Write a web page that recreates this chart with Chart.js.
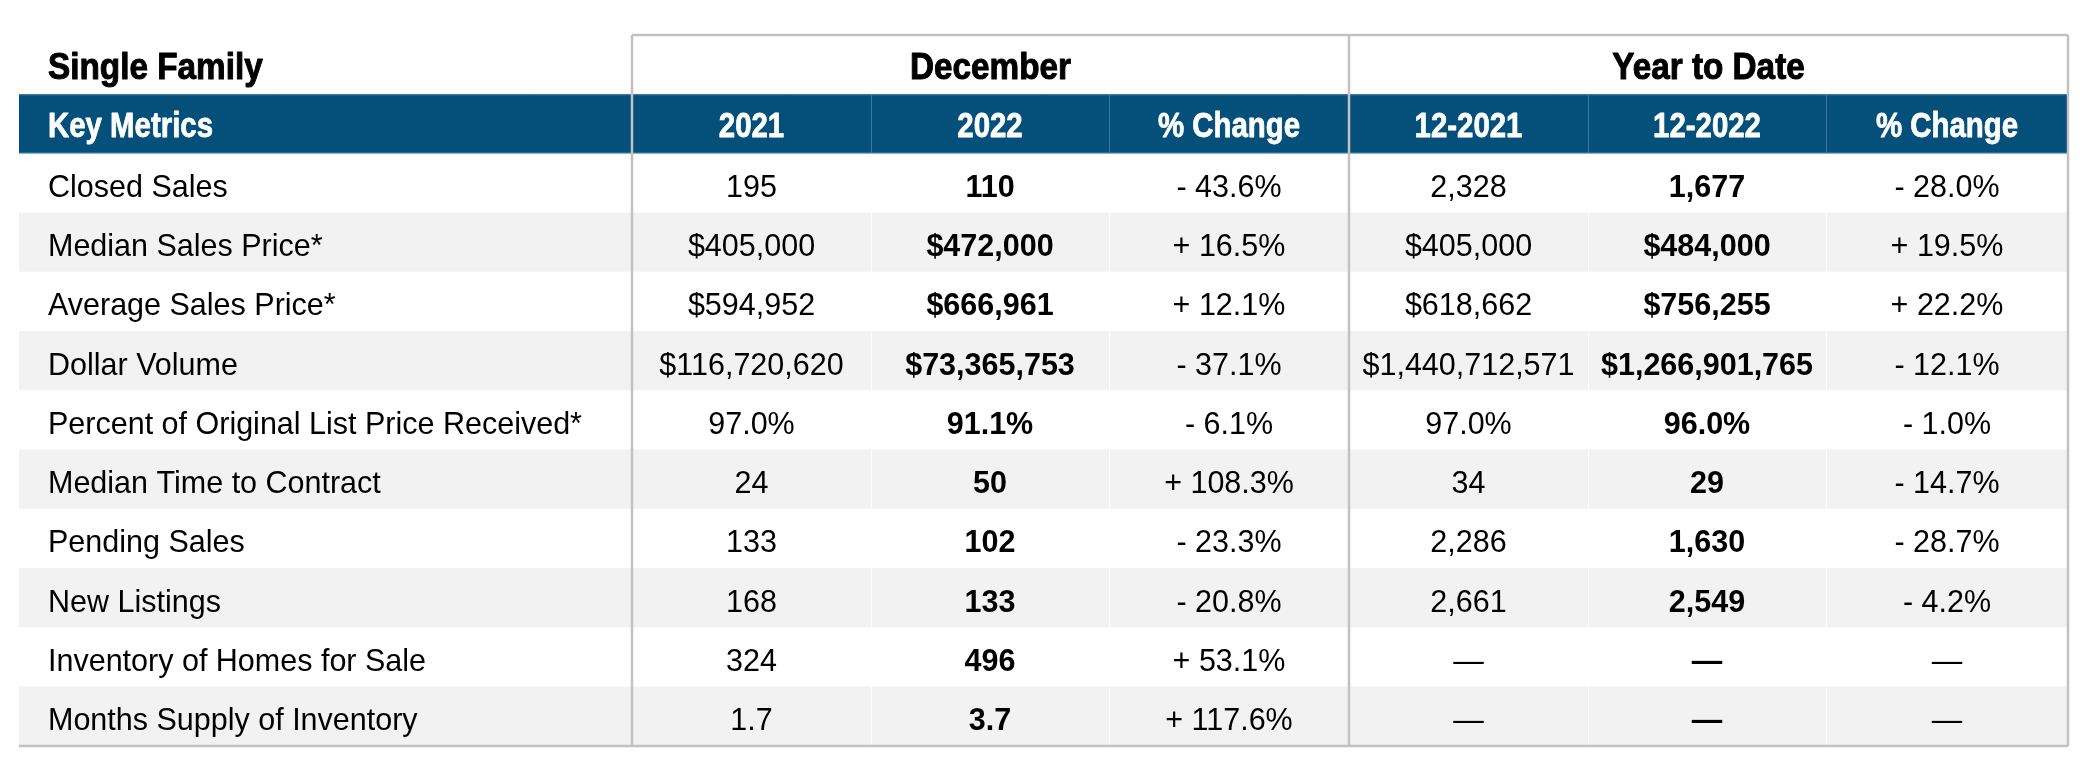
<!DOCTYPE html>
<html lang="en">
<head>
    <title>Single Family Key Metrics</title>
    <meta charset="UTF-8">

    <!-- Include Chart.js library -->
    <script src="https://cdn.jsdelivr.net/npm/chart.js"></script>
    <style>
        body { margin: 0; background: #fff; }
        #wrap { width: 2092px; height: 772px; position: relative; }
    </style>
</head>
<body>
    <div id="wrap">
        <canvas id="metricsTable"></canvas>
    </div>

    <script>
        // Table data
        const sectionTitle = 'Single Family';
        const groupTitles = ['December', 'Year to Date'];
        const columnHeaders = ['Key Metrics', '2021', '2022', '% Change', '12-2021', '12-2022', '% Change'];

        const metrics = [
            'Closed Sales',
            'Median Sales Price*',
            'Average Sales Price*',
            'Dollar Volume',
            'Percent of Original List Price Received*',
            'Median Time to Contract',
            'Pending Sales',
            'New Listings',
            'Inventory of Homes for Sale',
            'Months Supply of Inventory'
        ];
        const dec2021 = ['195', '$405,000', '$594,952', '$116,720,620', '97.0%', '24', '133', '168', '324', '1.7'];
        const dec2022 = ['110', '$472,000', '$666,961', '$73,365,753', '91.1%', '50', '102', '133', '496', '3.7'];
        const decChange = ['- 43.6%', '+ 16.5%', '+ 12.1%', '- 37.1%', '- 6.1%', '+ 108.3%', '- 23.3%', '- 20.8%', '+ 53.1%', '+ 117.6%'];
        const ytd2021 = ['2,328', '$405,000', '$618,662', '$1,440,712,571', '97.0%', '34', '2,286', '2,661', '—', '—'];
        const ytd2022 = ['1,677', '$484,000', '$756,255', '$1,266,901,765', '96.0%', '29', '1,630', '2,549', '—', '—'];
        const ytdChange = ['- 28.0%', '+ 19.5%', '+ 22.2%', '- 12.1%', '- 1.0%', '- 14.7%', '- 28.7%', '- 4.2%', '—', '—'];

        // Layout: column edges in x-scale units
        const colEdges = [0, 613, 852, 1090, 1330, 1569, 1807, 2049];
        const boldColumns = [2, 5];

        const BLUE = '#04507a';
        const STRIPE = '#f2f2f2';
        const BORDER = '#c2c2c2';
        const FONT = "'Liberation Sans', Arial, Helvetica, sans-serif";

        const rowLabels = [sectionTitle, columnHeaders[0], ...metrics];
        const valueColumns = [dec2021, dec2022, decChange, ytd2021, ytd2022, ytdChange];

        const rowColors = rowLabels.map((label, i) => {
            if (i === 0) return 'rgba(0,0,0,0)';
            if (i === 1) return BLUE;
            return (i % 2 === 0) ? '#ffffff' : STRIPE;
        });

        // Helper to draw (optionally condensed / heavier) text
        function drawText(ctx, text, px, py, font, color, align, sx, heavy) {
            ctx.save();
            ctx.font = font;
            ctx.fillStyle = color;
            ctx.strokeStyle = color;
            ctx.textAlign = align;
            ctx.textBaseline = 'alphabetic';
            ctx.translate(px, py);
            ctx.scale(sx, 1);
            ctx.fillText(text, 0, 0);
            if (heavy) {
                ctx.lineWidth = heavy;
                ctx.lineJoin = 'round';
                ctx.strokeText(text, 0, 0);
            }
            ctx.restore();
        }

        // Plugin that draws borders and cell texts on the scales
        const tablePlugin = {
            id: 'tableCells',
            afterDatasetsDraw(chart) {
                const { ctx, scales: { x, y } } = chart;
                const rowH = y.getPixelForValue(1) - y.getPixelForValue(0);
                const rowTop = i => y.getPixelForValue(i) - rowH / 2;
                const colX = c => x.getPixelForValue(colEdges[c]);
                const colMid = c => (colX(c) + colX(c + 1)) / 2;
                const baseline = (i, size) => y.getPixelForValue(i) + size * 0.35 + 1;
                const tableBottom = rowTop(rowLabels.length);

                // thin dividers inside the blue band and body
                ctx.save();
                ctx.lineWidth = 1;
                [2, 3, 5, 6].forEach(c => {
                    const px = Math.round(colX(c)) + 0.5;
                    ctx.strokeStyle = '#3c77a0';
                    ctx.beginPath();
                    ctx.moveTo(px, rowTop(1));
                    ctx.lineTo(px, rowTop(2));
                    ctx.stroke();
                    ctx.strokeStyle = 'rgba(255,255,255,0.8)';
                    ctx.beginPath();
                    ctx.moveTo(px, rowTop(2));
                    ctx.lineTo(px, tableBottom);
                    ctx.stroke();
                });
                ctx.strokeStyle = '#4f86ad';
                [rowTop(1) + 0.5, rowTop(2) - 0.5].forEach(py => {
                    ctx.beginPath();
                    ctx.moveTo(colX(0), py);
                    ctx.lineTo(colX(7), py);
                    ctx.stroke();
                });
                ctx.restore();

                // outer borders
                ctx.save();
                ctx.strokeStyle = BORDER;
                ctx.lineWidth = 2.5;
                ctx.beginPath();
                ctx.moveTo(colX(1), rowTop(0));
                ctx.lineTo(colX(7), rowTop(0));
                [1, 4, 7].forEach(c => {
                    ctx.moveTo(colX(c), rowTop(0));
                    ctx.lineTo(colX(c), tableBottom);
                });
                ctx.moveTo(colX(0), tableBottom);
                ctx.lineTo(colX(7), tableBottom);
                ctx.stroke();
                ctx.restore();

                // top row titles
                const titleFont = 'bold 37px ' + FONT;
                drawText(ctx, sectionTitle, colX(0) + 29, baseline(0, 37), titleFont, '#000', 'left', 0.9, 1);
                drawText(ctx, groupTitles[0], (colX(1) + colX(4)) / 2, baseline(0, 37), titleFont, '#000', 'center', 0.9, 1);
                drawText(ctx, groupTitles[1], (colX(4) + colX(7)) / 2, baseline(0, 37), titleFont, '#000', 'center', 0.9, 1);

                // blue header row
                const headFont = 'bold 35px ' + FONT;
                columnHeaders.forEach((h, c) => {
                    const px = c === 0 ? colX(0) + 29 : colMid(c);
                    drawText(ctx, h, px, baseline(1, 35), headFont, '#fff', c === 0 ? 'left' : 'center', 0.84, 0.8);
                });

                // body rows
                const bodySize = 30.5;
                metrics.forEach((m, r) => {
                    const i = r + 2;
                    const by = baseline(i, bodySize) + 2;
                    drawText(ctx, m, colX(0) + 29, by, bodySize + 'px ' + FONT, '#000', 'left', 1, 0);
                    valueColumns.forEach((col, k) => {
                        const c = k + 1;
                        const font = (boldColumns.includes(c) ? 'bold ' : '') + bodySize + 'px ' + FONT;
                        drawText(ctx, col[r], colMid(c), by, font, '#000', 'center', 1, 0);
                    });
                });
            }
        };

        const ctx = document.getElementById('metricsTable').getContext('2d');
        const tableChart = new Chart(ctx, {
            type: 'bar',
            data: {
                labels: rowLabels,
                datasets: [{
                    label: 'rows',
                    data: rowLabels.map(() => [colEdges[0], colEdges[colEdges.length - 1]]),
                    backgroundColor: rowColors,
                    borderWidth: 0,
                    barPercentage: 1,
                    categoryPercentage: 1,
                }],
            },
            options: {
                indexAxis: 'y',
                responsive: true,
                maintainAspectRatio: false,
                animation: false,
                layout: {
                    padding: { left: 19, right: 24, top: 35, bottom: 26 },
                },
                scales: {
                    x: {
                        type: 'linear',
                        min: colEdges[0],
                        max: colEdges[colEdges.length - 1],
                        display: false,
                    },
                    y: {
                        type: 'category',
                        display: false,
                        grid: { display: false },
                    },
                },
                plugins: {
                    legend: { display: false },
                    tooltip: { enabled: false },
                },
            },
            plugins: [tablePlugin],
        });
    </script>
</body>
</html>
